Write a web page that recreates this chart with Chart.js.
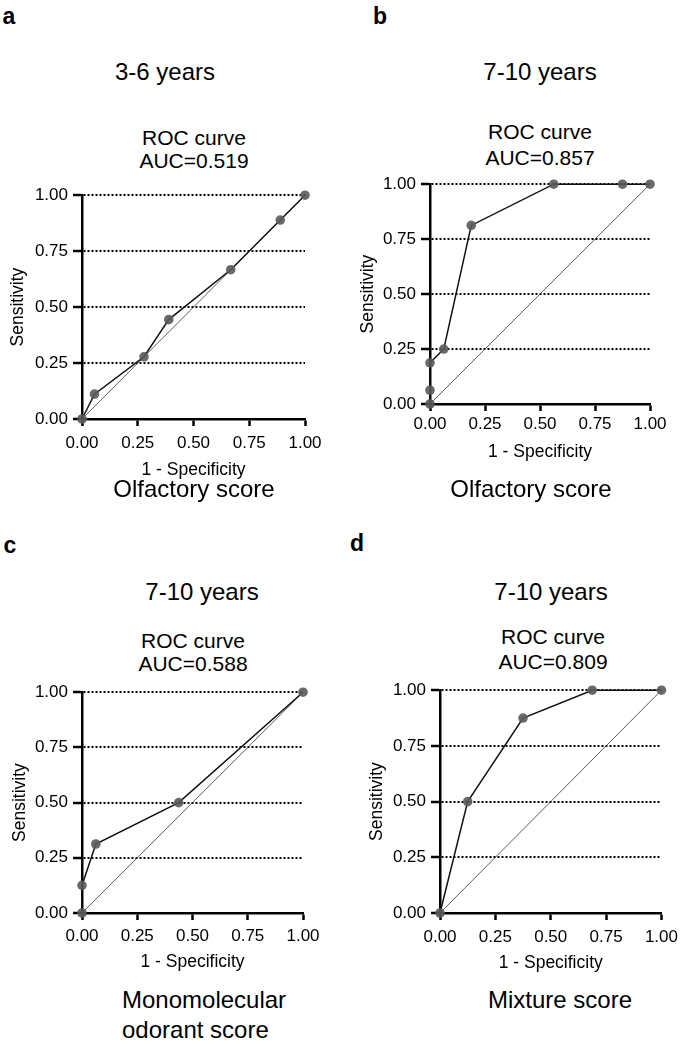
<!DOCTYPE html>
<html>
<head>
<meta charset="utf-8">
<script src="https://cdn.jsdelivr.net/npm/chart.js@4.4.1/dist/chart.umd.min.js"></script>
<style>
  html, body { margin: 0; padding: 0; background: #fff; }
  body { width: 685px; height: 1044px; position: relative; overflow: hidden;
         font-family: 'Liberation Sans', Arial, sans-serif; color: #000; }
  canvas { position: absolute; }
  .txt { position: absolute; white-space: nowrap; line-height: 1; transform: translate(-50%, -50%); }
  .left { transform: translate(0, -50%); }
  .letter { font-weight: bold; font-size: 23px; }
  .big { font-size: 24px; }
  .mid { font-size: 21px; }
</style>
</head>
<body>
<canvas id="chartA"></canvas>
<canvas id="chartB"></canvas>
<canvas id="chartC"></canvas>
<canvas id="chartD"></canvas>

<div class="txt letter" style="left:9px;top:16px">a</div>
<div class="txt big" style="left:165px;top:72px">3-6 years</div>
<div class="txt mid" style="left:194px;top:137px">ROC curve</div>
<div class="txt mid" style="left:194px;top:160px">AUC=0.519</div>
<div class="txt big" style="left:194px;top:489px">Olfactory score</div>

<div class="txt letter" style="left:380px;top:16px">b</div>
<div class="txt big" style="left:540px;top:72px">7-10 years</div>
<div class="txt mid" style="left:540px;top:131px">ROC curve</div>
<div class="txt mid" style="left:540px;top:157px">AUC=0.857</div>
<div class="txt big" style="left:531px;top:489px">Olfactory score</div>

<div class="txt letter" style="left:10px;top:545px">c</div>
<div class="txt big" style="left:202px;top:592px">7-10 years</div>
<div class="txt mid" style="left:193px;top:640px">ROC curve</div>
<div class="txt mid" style="left:193px;top:663px">AUC=0.588</div>
<div class="txt big left" style="left:122px;top:1000px">Monomolecular</div>
<div class="txt big left" style="left:122px;top:1030px">odorant score</div>

<div class="txt letter" style="left:357px;top:543px">d</div>
<div class="txt big" style="left:551px;top:592px">7-10 years</div>
<div class="txt mid" style="left:553px;top:636px">ROC curve</div>
<div class="txt mid" style="left:553px;top:661px">AUC=0.809</div>
<div class="txt big" style="left:560px;top:1000px">Mixture score</div>

<script>
// --- ROC data (1 - specificity, sensitivity) ---
const fprA = [0, 0.056, 0.278, 0.389, 0.667, 0.889, 1];
const tprA = [0, 0.111, 0.278, 0.444, 0.667, 0.889, 1];

const fprB = [0, 0, 0, 0.0625, 0.1875, 0.5625, 0.875, 1];
const tprB = [0, 0.0625, 0.1875, 0.25, 0.8125, 1, 1, 1];

const fprC = [0, 0, 0.0625, 0.4375, 1];
const tprC = [0, 0.125, 0.3125, 0.5, 1];

const fprD = [0, 0.125, 0.375, 0.6875, 1];
const tprD = [0, 0.5, 0.875, 1, 1];

// chance line
const diagX = [0, 1];
const diagY = [0, 1];

const axisTicks = [0, 0.25, 0.5, 0.75, 1];
const xTitle = '1 - Specificity';
const yTitle = 'Sensitivity';

const FONT = "'Liberation Sans', Arial, sans-serif";

const toPoints = (xs, ys) => xs.map((x, i) => ({ x: x, y: ys[i] }));

// box = canvas rect, plot = wanted chart area (page coords)
function makePanel(id, xs, ys, box, plot, yTitleX, xTitleY, xTickPad) {
    const cv = document.getElementById(id);
    cv.width = box.w; cv.height = box.h;
    cv.style.left = box.x + 'px'; cv.style.top = box.y + 'px';

    const titleSize = 17.5, titleLH = titleSize * 1.2;
    const yAxisW = plot.l - box.x;
    const xAxisH = box.y + box.h - plot.b;

    const tickCfg = {
        min: 0, max: 1, stepSize: 0.25,
        color: '#000',
        font: { family: FONT, size: 17 },
        callback: (v) => v.toFixed(2)
    };

    new Chart(cv.getContext('2d'), {
        type: 'scatter',
        data: {
            datasets: [
                {
                    data: toPoints(xs, ys),
                    showLine: true,
                    borderColor: '#111',
                    borderWidth: 1.5,
                    pointRadius: 4.8,
                    pointBorderWidth: 0,
                    pointBackgroundColor: 'rgba(90,90,90,0.9)',
                    clip: false
                },
                {
                    data: toPoints(diagX, diagY),
                    showLine: true,
                    borderColor: '#333',
                    borderWidth: 0.8,
                    pointRadius: 0,
                    clip: false
                }
            ]
        },
        options: {
            responsive: false,
            animation: false,
            events: [],
            layout: { padding: { left: 0, top: plot.t - box.y, right: box.x + box.w - plot.r, bottom: 0 } },
            plugins: { legend: { display: false }, tooltip: { enabled: false } },
            scales: {
                x: {
                    type: 'linear', position: 'bottom',
                    min: 0, max: 1,
                    afterBuildTicks: (s) => { s.ticks = axisTicks.map(v => ({ value: v })); },
                    afterFit: (s) => { s.height = xAxisH; },
                    ticks: Object.assign({}, tickCfg, { padding: xTickPad }),
                    grid: { drawOnChartArea: false, drawTicks: true, tickLength: 7, tickWidth: 2.5, tickColor: '#000', color: '#000' },
                    border: { display: true, color: '#000', width: 2.5 },
                    title: {
                        display: true, text: xTitle, color: '#000',
                        font: { family: FONT, size: titleSize },
                        padding: { top: 0, bottom: box.y + box.h - xTitleY - titleLH / 2 }
                    }
                },
                y: {
                    type: 'linear', position: 'left',
                    min: 0, max: 1,
                    afterBuildTicks: (s) => { s.ticks = axisTicks.map(v => ({ value: v })); },
                    afterFit: (s) => { s.width = yAxisW; },
                    ticks: Object.assign({}, tickCfg, { padding: 5 }),
                    grid: {
                        drawOnChartArea: true, drawTicks: true, tickLength: 9,
                        color: '#000', lineWidth: 2,
                        tickWidth: 2.5, tickColor: '#000', tickBorderDash: []
                    },
                    border: { display: true, color: '#000', width: 2.5, dash: [2, 2] },
                    title: {
                        display: true, text: yTitle, color: '#000',
                        font: { family: FONT, size: titleSize },
                        padding: { top: yTitleX - box.x - titleLH / 2, bottom: 0 }
                    }
                }
            }
        }
    });
}

makePanel('chartA', fprA, tprA, { x: 0, y: 180, w: 330, h: 304 }, { l: 82, t: 195, r: 305, b: 419 }, 18, 470, 7);
makePanel('chartB', fprB, tprB, { x: 340, y: 169, w: 345, h: 296 }, { l: 430, t: 184, r: 650, b: 404 }, 368, 452, 3);
makePanel('chartC', fprC, tprC, { x: 0, y: 677, w: 330, h: 299 }, { l: 82, t: 692, r: 303, b: 913 }, 20, 962, 6);
makePanel('chartD', fprD, tprD, { x: 340, y: 675, w: 345, h: 302 }, { l: 440, t: 690, r: 663, b: 913 }, 377, 963, 7);
</script>
</body>
</html>
